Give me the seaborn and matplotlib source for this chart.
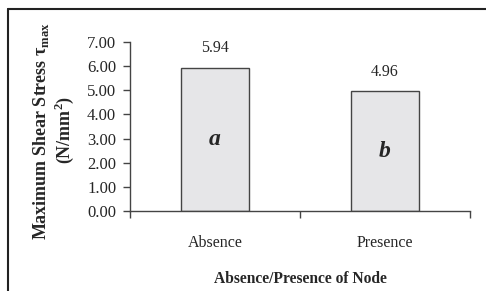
import matplotlib
matplotlib.use("Agg")
import matplotlib.pyplot as plt
import seaborn as sns
import pandas as pd
from matplotlib.lines import Line2D

categories = ["Absence", "Presence"]
values = [5.94, 4.96]
letters = ["a", "b"]
yticks = [0, 1, 2, 3, 4, 5, 6, 7]

sns.set_theme(style="white")
plt.rcParams['font.family'] = ['Liberation Serif', 'DejaVu Serif']
plt.rcParams['mathtext.fontset'] = 'custom'
plt.rcParams['mathtext.rm'] = 'Liberation Serif'
plt.rcParams['mathtext.bf'] = 'Liberation Serif:bold'

df = pd.DataFrame({"cat": categories, "val": values})

fig = plt.figure(figsize=(4.86, 2.91), dpi=100)
ax = fig.add_axes([130/486, 1-211/291, 340/486, (211-42)/291])

sns.barplot(data=df, x="cat", y="val", ax=ax, width=0.4, color="#e6e6e8",
            edgecolor="#444444", linewidth=1.0, saturation=1)

ax.set_xlim(-0.5, 1.5)
ax.set_ylim(0, 7)
ax.set_yticks(yticks)
ax.set_yticklabels([f"{v:.2f}" for v in yticks], fontsize=12)
ax.set_xticks([0, 1])
ax.set_xticklabels(categories, fontsize=11.5)
ax.tick_params(axis='x', length=0, pad=17)
ax.set_xticks([-0.5, 0.5, 1.5], minor=True)
ax.tick_params(axis='x', which='minor', length=5, width=1, color="#444444", direction='out', bottom=True)
ax.tick_params(axis='y', length=5, width=1, color="#444444", direction='out', left=True, pad=5)
ax.set_ylabel("")

for s in ["top", "right"]:
    ax.spines[s].set_visible(False)
for s in ["left", "bottom"]:
    ax.spines[s].set_color("#444444")
    ax.spines[s].set_linewidth(1.0)

for i, (v, l) in enumerate(zip(values, letters)):
    ax.text(i, v + 0.8, f"{v:.2f}", ha="center", va="center", fontsize=11.5)
    ax.text(i, v / 2, l, ha="center", va="center", fontsize=17,
            fontweight="bold", fontstyle="italic")

ax.set_xlabel("Absence/Presence of Node", fontsize=11.2, fontweight="bold", labelpad=15)
fig.text(41/486, 1-131/291, "Maximum Shear Stress τ$_{\\mathbf{max}}$", rotation=90,
         ha="center", va="center", fontsize=13, fontweight="bold")
fig.text(64/486, 1-130/291, "(N/mm$^{\\mathbf{2}}$)", rotation=90,
         ha="center", va="center", fontsize=13, fontweight="bold")

fig.add_artist(Line2D([8/486, 1], [1-9/291, 1-9/291], color="#222222", lw=1.5, transform=fig.transFigure))
fig.add_artist(Line2D([8/486, 8/486], [0, 1-9/291], color="#222222", lw=1.5, transform=fig.transFigure))

fig.savefig("out.png", dpi=100)
